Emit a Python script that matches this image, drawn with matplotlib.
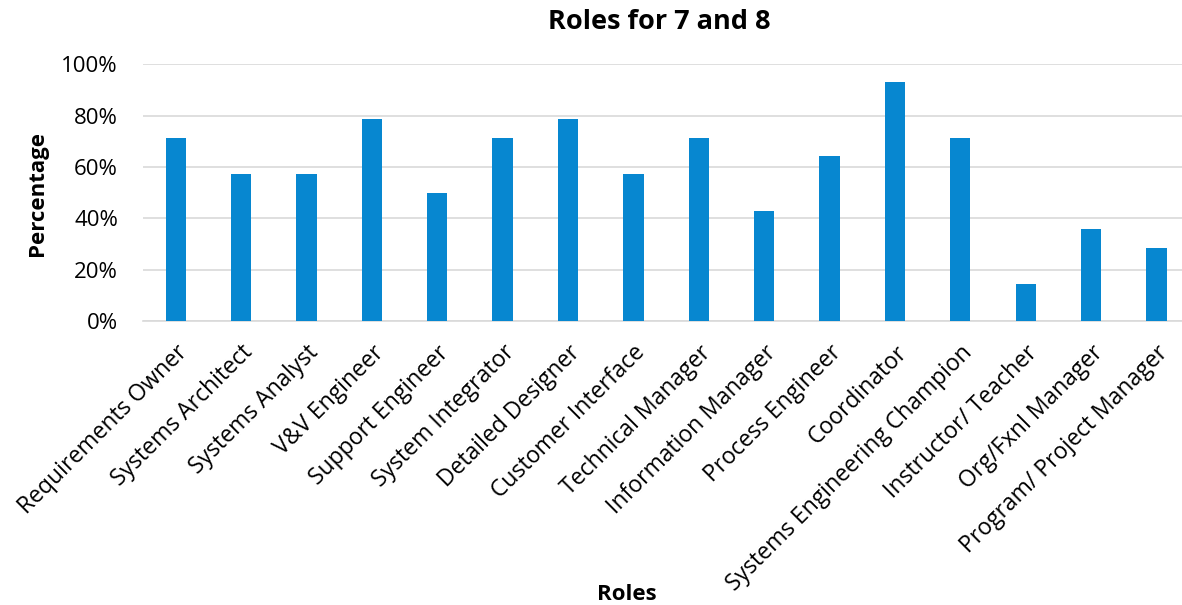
import numpy as np
import matplotlib.pyplot as plt
from matplotlib.ticker import PercentFormatter

plt.rcParams['font.family'] = ['Open Sans', 'DejaVu Sans']

roles = ['Requirements Owner', 'Systems Architect', 'Systems Analyst', 'V&V Engineer',
         'Support Engineer', 'System Integrator', 'Detailed Designer', 'Customer Interface',
         'Technical Manager', 'Information Manager', 'Process Engineer', 'Coordinator',
         'Systems Engineering Champion', 'Instructor/ Teacher', 'Org/Fxnl Manager',
         'Program/ Project Manager']
pct = [0.714, 0.571, 0.571, 0.786, 0.50, 0.714, 0.786, 0.571,
       0.714, 0.429, 0.643, 0.929, 0.714, 0.143, 0.357, 0.286]

fig = plt.figure(figsize=(11.82, 6.05), dpi=100)
ax = fig.add_axes([0.121, 0.469, 0.885, 0.425])

x = np.arange(len(roles))
ax.bar(x, pct, width=0.31, color='#0787D0', zorder=3)
ax.set_xlim(-0.5, len(roles) - 0.5)
ax.set_ylim(0, 1.0)
ax.set_yticks(np.arange(0, 1.01, 0.2))
ax.yaxis.set_major_formatter(PercentFormatter(1.0, decimals=0))
ax.grid(axis='y', color='#d9d9d9', linewidth=1.2, zorder=0)
for s in ['top', 'right', 'left']:
    ax.spines[s].set_visible(False)
ax.spines['bottom'].set_color('#d9d9d9')
ax.spines['bottom'].set_linewidth(1.2)
ax.tick_params(length=0, labelsize=16, colors='black')
ax.tick_params(axis='y', pad=18)
ax.tick_params(axis='x', pad=14)
ax.set_xticks(x)
ax.set_xticklabels(roles, rotation=45, ha='right', rotation_mode='anchor', fontsize=16.5)

fig.text(659 / 1182, 1 - 22 / 605, 'Roles for 7 and 8', ha='center', va='center',
         fontsize=19.5, fontweight='bold')
fig.text(37 / 1182, 1 - 193 / 605, 'Percentage', ha='center', va='center', rotation=90,
         fontsize=16, fontweight='bold')
fig.text(627 / 1182, 1 - 594 / 605, 'Roles', ha='center', va='center', fontsize=16,
         fontweight='bold')

fig.savefig('out.png', dpi=100)
